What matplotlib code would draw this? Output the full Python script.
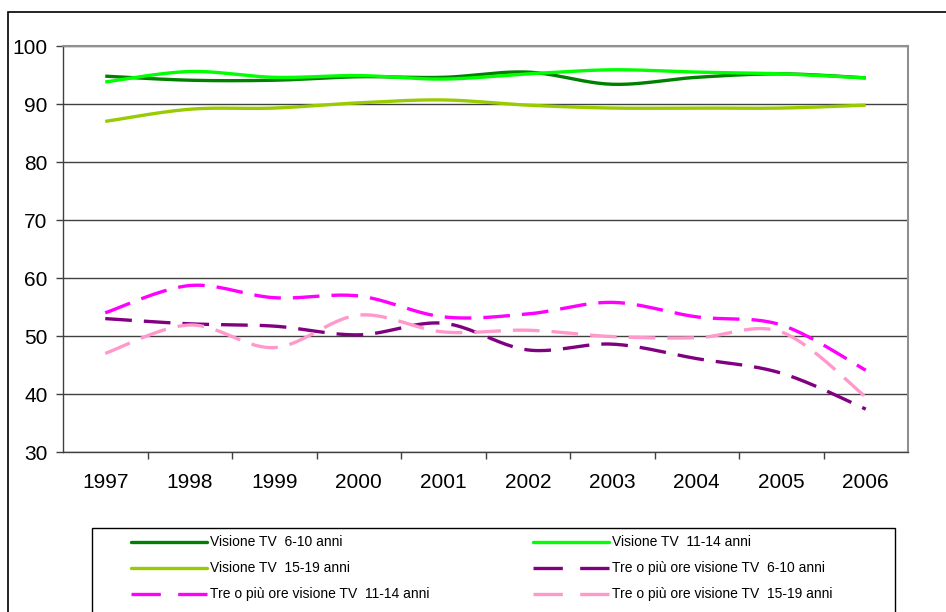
import numpy as np
import matplotlib.pyplot as plt
from matplotlib.patches import Rectangle
from matplotlib.lines import Line2D

plt.rcParams['font.family'] = ['Liberation Sans', 'DejaVu Sans']

# dati
anni = ['1997', '1998', '1999', '2000', '2001', '2002', '2003', '2004', '2005', '2006']
tv_6_10 = [94.8, 94.1, 94.1, 94.7, 94.6, 95.5, 93.4, 94.6, 95.2, 94.5]
tv_11_14 = [93.8, 95.6, 94.6, 94.9, 94.3, 95.2, 95.9, 95.5, 95.2, 94.5]
tv_15_19 = [87.0, 89.1, 89.3, 90.2, 90.7, 89.8, 89.3, 89.3, 89.3, 89.8]
tre_6_10 = [53.0, 52.1, 51.7, 50.2, 52.2, 47.6, 48.6, 46.1, 43.6, 37.4]
tre_11_14 = [54.0, 58.7, 56.6, 56.9, 53.3, 53.8, 55.8, 53.3, 51.9, 44.1]
tre_15_19 = [47.0, 51.9, 48.0, 53.6, 50.7, 51.0, 49.9, 49.7, 50.7, 39.5]

serie = [
    ('Visione TV  6-10 anni', tv_6_10, '#008000', '-'),
    ('Visione TV  11-14 anni', tv_11_14, '#00FF00', '-'),
    ('Visione TV  15-19 anni', tv_15_19, '#99CC00', '-'),
    ('Tre o più ore visione TV  6-10 anni', tre_6_10, '#800080', '--'),
    ('Tre o più ore visione TV  11-14 anni', tre_11_14, '#FF00FF', '--'),
    ('Tre o più ore visione TV  15-19 anni', tre_15_19, '#FF99CC', '--'),
]


def smooth(x, y, n=24):
    # curva liscia tipo Excel (Bezier / Catmull-Rom) che passa per i punti
    x = np.asarray(x, float)
    y = np.asarray(y, float)
    p = np.column_stack([x, y])
    pp = np.vstack([p[0], p, p[-1]])
    out = []
    t = np.linspace(0, 1, n)[:, None]
    for i in range(len(p) - 1):
        p0, p3 = pp[i + 1], pp[i + 2]
        c1 = p0 + (pp[i + 2] - pp[i]) / 6
        c2 = p3 - (pp[i + 3] - pp[i + 1]) / 6
        seg = ((1 - t) ** 3) * p0 + 3 * ((1 - t) ** 2) * t * c1 + 3 * (1 - t) * t ** 2 * c2 + t ** 3 * p3
        out.append(seg if i == 0 else seg[1:])
    out = np.vstack(out)
    return out[:, 0], out[:, 1]


W, H = 946, 612
fig = plt.figure(figsize=(W / 100, H / 100), dpi=100)
ax = fig.add_axes([63 / W, 1 - 452 / H, (908 - 63) / W, (452 - 46) / H])

xs = np.arange(len(anni))
for nome, vals, col, ls in serie:
    sx, sy = smooth(xs, vals)
    if ls == '-':
        ax.plot(sx, sy, color=col, lw=2.4, solid_capstyle='butt')
    else:
        ax.plot(sx, sy, color=col, lw=2.4, dashes=(8, 3.6), dash_capstyle='butt')

ax.set_xlim(-0.5, len(anni) - 0.5)
ax.set_ylim(30, 100)
ax.set_yticks(range(30, 101, 10))
ax.yaxis.grid(True, color='#404040', lw=1)
ax.set_axisbelow(True)
ax.set_xticks(xs)
ax.set_xticklabels(anni)
ax.set_xticks(np.arange(0.5, len(anni) - 1, 1), minor=True)
ax.tick_params(axis='x', which='major', length=0, pad=15, labelsize=15)
ax.tick_params(axis='x', which='minor', length=5, width=1, color='#404040')
ax.tick_params(axis='y', length=5, width=1, color='#404040', pad=6, labelsize=15)

for s in ['left', 'bottom']:
    ax.spines[s].set_color('#404040')
    ax.spines[s].set_linewidth(1)
for s in ['top', 'right']:
    ax.spines[s].set_color('#909090')
    ax.spines[s].set_linewidth(1.5)

# bordo esterno del grafico
fig.patches.append(Rectangle((8 / W, -0.1), 1.2, 1 - 12 / H + 0.1, transform=fig.transFigure,
                             fill=False, edgecolor='black', lw=1.2))

# legenda disegnata a mano (due colonne)
fig.patches.append(Rectangle((92 / W, -0.1), (895 - 92) / W, 0.1 + 1 - 528 / H,
                             transform=fig.transFigure, fill=False, edgecolor='black', lw=1))
col_x = [131, 533]
row_y = [542, 568, 594]
for k, (nome, vals, col, ls) in enumerate(serie):
    x0 = col_x[k % 2]
    y0 = 1 - row_y[k // 2] / H
    kw = dict(color=col, lw=2.4, transform=fig.transFigure, solid_capstyle='round')
    if ls == '--':
        kw.update(dashes=(8.8, 5.2), dash_capstyle='butt')
    fig.lines.append(Line2D([x0 / W, (x0 + 76) / W], [y0, y0], **kw))
    fig.text((x0 + 79) / W, y0, nome, fontsize=10, va='center', ha='left')

fig.savefig('out.png', dpi=100)
